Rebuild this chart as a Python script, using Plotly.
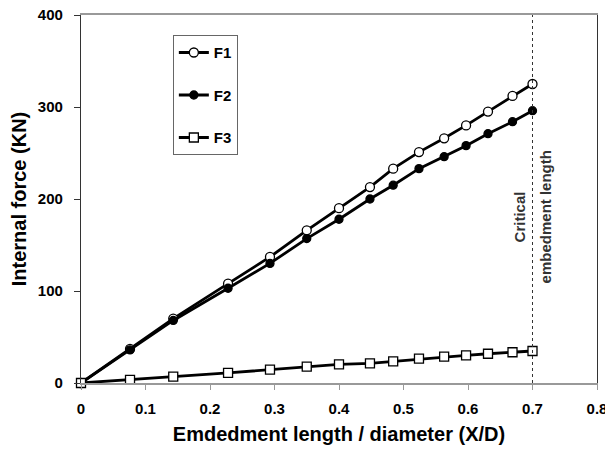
import plotly.graph_objects as go

x_ratio = [0, 0.076, 0.143, 0.228, 0.293, 0.35, 0.40, 0.448, 0.484, 0.524, 0.563, 0.597, 0.631, 0.669, 0.70]
f1 = [0, 37, 70, 108, 137, 166, 190, 213, 233, 251, 266, 280, 295, 312, 325]
f2 = [0, 36, 68, 103, 130, 157, 178, 200, 215, 233, 246, 258, 271, 284, 296]
f3 = [0, 3.3, 7, 11, 14.5, 17.7, 20.3, 21.4, 23.6, 26.4, 28.6, 30.1, 31.8, 33.4, 34.8]
series_names = ["F1", "F2", "F3"]
critical_x = 0.7
critical_label_y = 180
x_ticks = [0, 0.1, 0.2, 0.3, 0.4, 0.5, 0.6, 0.7, 0.8]
y_ticks = [0, 100, 200, 300, 400]

FONT = "Liberation Sans, Arial, sans-serif"

fig = go.Figure()
styles = [
    dict(symbol="circle", size=9, color="white"),
    dict(symbol="circle", size=8, color="black"),
    dict(symbol="square", size=9, color="white"),
]
for name, ys, st in zip(series_names, [f1, f2, f3], styles):
    fig.add_trace(go.Scatter(
        x=x_ratio, y=ys, name=name, mode="lines+markers",
        legendgroup=name,
        line=dict(color="black", width=2.8),
        marker=dict(symbol=st["symbol"], size=st["size"], color=st["color"],
                    line=dict(color="black", width=1.3)),
        cliponaxis=False,
    ))

fig.add_shape(type="line", x0=critical_x, x1=critical_x, y0=0, y1=400,
              xref="x", yref="y", line=dict(color="#333", width=1, dash="dot"))

fig.add_annotation(x=critical_x, y=critical_label_y, xref="x", yref="y",
                   text="Critical", textangle=-90, showarrow=False,
                   xanchor="right", xshift=-3,
                   font=dict(family=FONT, size=15, color="#333", weight="bold"))
fig.add_annotation(x=critical_x, y=critical_label_y, xref="x", yref="y",
                   text="embedment length", textangle=-90, showarrow=False,
                   xanchor="left", xshift=2,
                   font=dict(family=FONT, size=15, color="#333", weight="bold"))

# The page body adds an 8px margin, so the figure is 8px smaller on each axis.
fig.update_layout(
    width=605, height=447,
    margin=dict(l=73, r=16, t=7, b=72),
    paper_bgcolor="white", plot_bgcolor="white",
    font=dict(family=FONT, color="black"),
    showlegend=True,
    legend=dict(x=0.178, y=0.945, xanchor="left", yanchor="top",
                bordercolor="#666", borderwidth=1, bgcolor="white",
                font=dict(family=FONT, size=15, color="black", weight="bold"),
                tracegroupgap=20),
    xaxis=dict(range=[0, 0.8], tickvals=x_ticks, ticktext=[("%g" % v) for v in x_ticks],
               automargin=False,
               showgrid=False, zeroline=False,
               showline=True, linecolor="#999", linewidth=1.5, mirror=True,
               ticks="outside", ticklen=5, tickcolor="#999",
               ticklabelstandoff=6, ticklabeloverflow="allow",
               tickfont=dict(family=FONT, size=15, weight="bold"),
               title=dict(text="Emdedment length / diameter (X/D)",
                          font=dict(family=FONT, size=20, weight="bold"), standoff=11)),
    yaxis=dict(range=[0, 400], tickvals=y_ticks,
               automargin=False,
               showgrid=False, zeroline=False,
               showline=True, linecolor="#333", linewidth=1.2, mirror=True,
               ticks="outside", ticklen=6, tickcolor="#333",
               ticklabelstandoff=8, ticklabeloverflow="allow",
               tickfont=dict(family=FONT, size=15, weight="bold"),
               title=dict(text="Internal force (KN)",
                          font=dict(family=FONT, size=20, weight="bold"), standoff=11)),
)

fig.write_html("out.html")
